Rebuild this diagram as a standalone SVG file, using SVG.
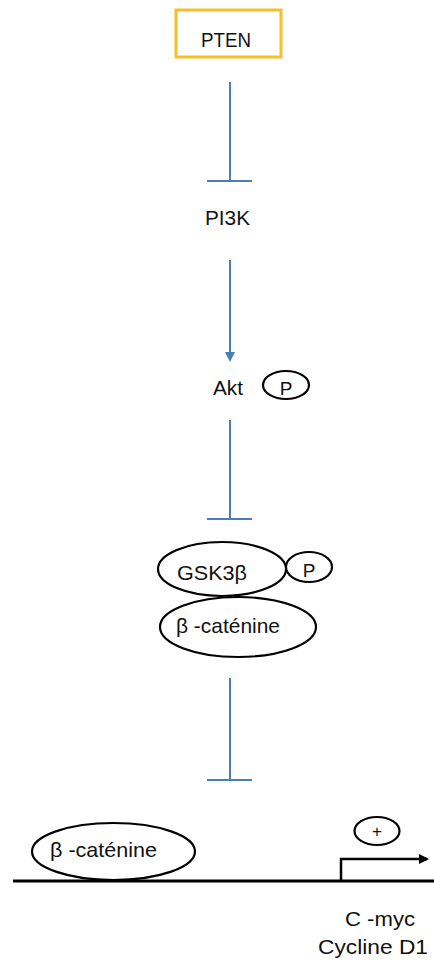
<svg xmlns="http://www.w3.org/2000/svg" width="434" height="963" viewBox="0 0 434 963">
  <style>
    text { font-family: "Liberation Sans", Arial, sans-serif; font-size: 20px; fill: #111; }
    .mid { text-anchor: middle; }
    .blue { stroke: #4a7ebb; stroke-width: 2; fill: none; }
    .oval { fill: #fff; stroke: #000; stroke-width: 2.2; }
    .dna { stroke: #000; stroke-width: 3; fill: none; }
  </style>
  <defs>
    <marker id="arrowBlue" markerWidth="10" markerHeight="10" refX="8" refY="5" orient="auto" markerUnits="userSpaceOnUse">
      <path d="M0,0 L10,5 L0,10 Z" fill="#4a7ebb"/>
    </marker>
    <marker id="arrowBlack" markerWidth="10" markerHeight="10" refX="8" refY="5" orient="auto" markerUnits="userSpaceOnUse">
      <path d="M0,0 L10,5 L0,10 Z" fill="#000"/>
    </marker>
  </defs>

  <g id="connectors">
    <!-- PTEN inhibits PI3K -->
    <line class="blue" x1="230" y1="82" x2="230" y2="181"/>
    <line class="blue" x1="207" y1="181" x2="252" y2="181"/>
    <!-- PI3K activates Akt -->
    <line class="blue" x1="230" y1="260" x2="230" y2="360" marker-end="url(#arrowBlue)"/>
    <!-- Akt inhibits GSK3b -->
    <line class="blue" x1="230" y1="420" x2="230" y2="519"/>
    <line class="blue" x1="207" y1="519" x2="252" y2="519"/>
    <!-- complex inhibits free beta-catenin -->
    <line class="blue" x1="230" y1="678" x2="230" y2="780"/>
    <line class="blue" x1="207" y1="780" x2="252" y2="780"/>
  </g>

  <g id="pten">
    <rect x="176" y="10" width="105" height="47" fill="#fff" stroke="#f5c02a" stroke-width="3"/>
    <text x="201" y="47" textLength="50" lengthAdjust="spacingAndGlyphs">PTEN</text>
  </g>

  <g id="pi3k">
    <text x="205" y="225" textLength="45" lengthAdjust="spacingAndGlyphs">PI3K</text>
  </g>

  <g id="akt">
    <text x="213" y="395" textLength="30" lengthAdjust="spacingAndGlyphs">Akt</text>
    <ellipse class="oval" cx="286" cy="385" rx="23" ry="14"/>
    <text class="mid" x="286" y="395" style="font-size:19px">P</text>
  </g>

  <g id="gsk3b-complex">
    <ellipse class="oval" cx="222" cy="569" rx="64" ry="27"/>
    <text x="177" y="580" style="font-size:21px" textLength="70" lengthAdjust="spacingAndGlyphs">GSK3β</text>
    <ellipse class="oval" cx="309" cy="567" rx="23" ry="15"/>
    <text class="mid" x="309" y="577" style="font-size:19px">P</text>
    <ellipse class="oval" cx="238" cy="627" rx="78" ry="30"/>
    <text x="176" y="633" style="font-size:21px" textLength="104" lengthAdjust="spacingAndGlyphs">β -caténine</text>
  </g>

  <g id="dna">
    <line class="dna" x1="13" y1="881" x2="434" y2="881"/>
    <polyline class="dna" points="341,881 341,859 427,859" marker-end="url(#arrowBlack)" style="stroke-width:2.5"/>
  </g>

  <g id="nuclear-catenin">
    <ellipse class="oval" cx="113.5" cy="851.5" rx="81.5" ry="28.5"/>
    <text x="50" y="857" style="font-size:21px" textLength="107" lengthAdjust="spacingAndGlyphs">β -caténine</text>
  </g>

  <g id="activation">
    <ellipse class="oval" cx="377" cy="831" rx="22.5" ry="14"/>
    <text class="mid" x="377" y="837" style="font-size:17px">+</text>
  </g>

  <g id="targets">
    <text x="345" y="926" textLength="70" lengthAdjust="spacingAndGlyphs">C -myc</text>
    <text x="318" y="954" style="font-size:21px" textLength="110" lengthAdjust="spacingAndGlyphs">Cycline D1</text>
  </g>
</svg>
